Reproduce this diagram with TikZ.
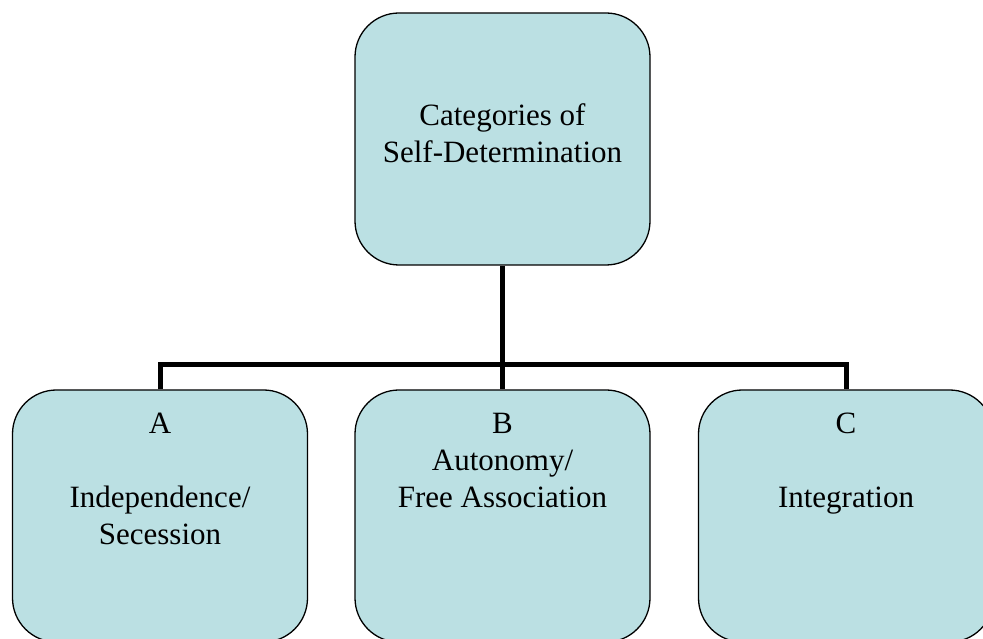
\documentclass[tikz,border=0pt]{standalone}
\usepackage{fontspec}
\setmainfont{Liberation Serif}
\usetikzlibrary{positioning}
\definecolor{catfill}{HTML}{BBE0E3}

\begin{document}
\begin{tikzpicture}[x=1pt,y=1pt,
  catbox/.style={rectangle, rounded corners=44pt, draw=black, line width=1.3pt,
    fill=catfill, minimum width=295pt, minimum height=252pt, inner sep=0pt},
  cattext/.style={font=\fontsize{31}{37}\selectfont, align=center, inner sep=0pt},
  conn/.style={line width=5pt}]

\useasboundingbox (0,0) rectangle (983,639);

\node[catbox] (cat) at (502.5,500) {};
\node[catbox] (ind) at (160,123) {};
\node[catbox] (aut) at (502.5,123) {};
\node[catbox] (int) at (846,123) {};

\node[cattext] (catlbl) at ([yshift=5.5pt]cat.center)
  {Categories of\\Self-Determination};
\node[cattext, anchor=north] (indlbl) at ([yshift=-23.5pt]ind.north)
  {A\\[37pt]Independence/\\Secession};
\node[cattext, anchor=north] (autlbl) at ([yshift=-23.5pt]aut.north)
  {B\\Autonomy/\\Free Association};
\node[cattext, anchor=north] (intlbl) at ([yshift=-23.5pt]int.north)
  {C\\[37pt]Integration};

\coordinate (bus) at (502.5,274);
\draw[conn] (cat.south) -- (aut.north);
\draw[conn] (ind.north) |- (bus) -| (int.north);
\end{tikzpicture}
\end{document}
